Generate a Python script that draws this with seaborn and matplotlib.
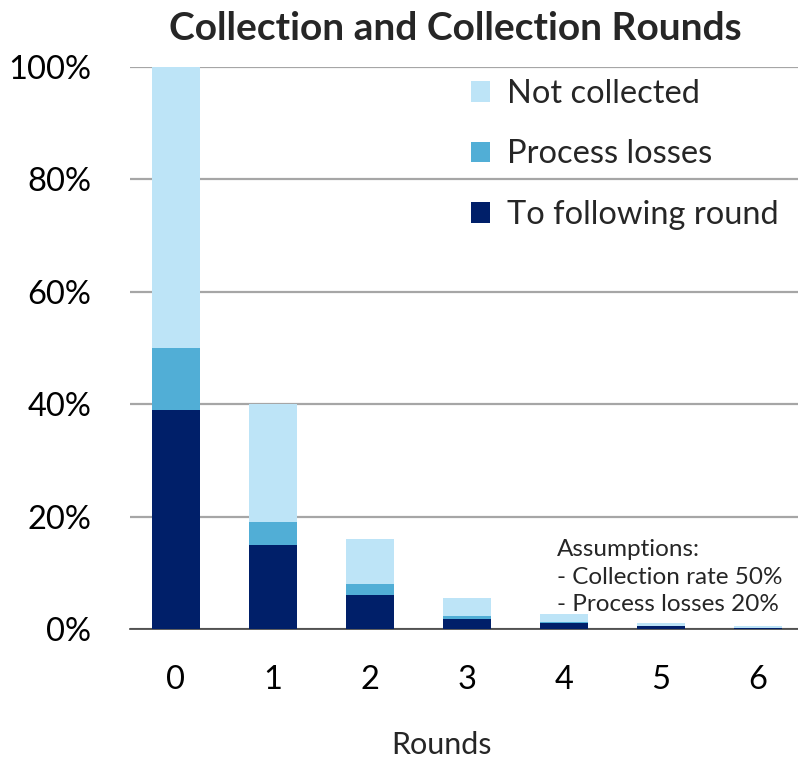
import numpy as np
import pandas as pd
import matplotlib.pyplot as plt
import seaborn as sns
from matplotlib.patches import Patch
from matplotlib.ticker import PercentFormatter

# Values (share of the initial amount)
rounds = ['0', '1', '2', '3', '4', '5', '6']
to_following = [0.39, 0.15, 0.060, 0.017, 0.010, 0.0045, 0.0015]
process_losses = [0.11, 0.04, 0.020, 0.007, 0.003, 0.0010, 0.0005]
not_collected = [0.50, 0.21, 0.080, 0.031, 0.013, 0.0045, 0.0030]

series_names = ['Not collected', 'Process losses', 'To following round']
colors = ['#BDE4F7', '#51AED6', '#001F69']

df = pd.DataFrame({'Round': rounds,
                   'following': to_following,
                   'losses': process_losses,
                   'not_collected': not_collected})
# cumulative tops for stacking
df['top_dark'] = df['following']
df['top_mid'] = df['following'] + df['losses']
df['top_light'] = df['top_mid'] + df['not_collected']

sns.set_theme(style='white')
plt.rcParams['font.family'] = ['Lato', 'DejaVu Sans']

W, H = 798, 761
fig = plt.figure(figsize=(W / 100, H / 100), dpi=100)
ax = fig.add_axes([130 / W, (H - 629) / H, 668 / W, 562 / H])

# Draw stacked bars as overlapping cumulative bars
for col, c in zip(['top_light', 'top_mid', 'top_dark'], colors):
    sns.barplot(data=df, x='Round', y=col, order=rounds, color=c,
                saturation=1, width=0.5, ax=ax, linewidth=0, zorder=3)

ax.set_xlim(-0.474, 6.412)
ax.set_ylim(0, 1)
ax.yaxis.set_major_locator(plt.MultipleLocator(0.2))
ax.yaxis.set_major_formatter(PercentFormatter(1.0, decimals=0))
ax.grid(axis='y', color='#A6A6A6', linewidth=1.6, zorder=0)
ax.set_axisbelow(True)

for s in ['left', 'right', 'top']:
    ax.spines[s].set_visible(False)
ax.spines['bottom'].set_color('#404040')
ax.spines['bottom'].set_linewidth(1.2)
ax.tick_params(axis='both', length=0, labelsize=23.5, colors='black')
ax.tick_params(axis='y', pad=28)
ax.tick_params(axis='x', pad=26)

ax.set_ylabel('')
ax.set_xlabel('Rounds', fontsize=22)
ax.xaxis.set_label_coords((442 - 130) / 668, -(745 - 629) / 562)
ax.xaxis.label.set_va('center')
fig.text(455 / W, 1 - 28 / H, 'Collection and Collection Rounds',
         fontsize=28, fontweight='bold', ha='center', va='center')

handles = [Patch(facecolor=c, edgecolor='none') for c in colors]
ax.legend(handles, series_names, loc='upper right', bbox_to_anchor=(1.0, 1.014),
          frameon=False, fontsize=23.5, handlelength=0.6, handleheight=0.6,
          handletextpad=0.5, labelspacing=0.94, borderaxespad=0.2)

ax.text(557 / W, 1 - 577 / H, 'Assumptions:\n- Collection rate 50%\n- Process losses 20%',
        transform=fig.transFigure, fontsize=17.5, ha='left', va='center',
        linespacing=1.4, zorder=5)

fig.savefig('out.png', dpi=100)
